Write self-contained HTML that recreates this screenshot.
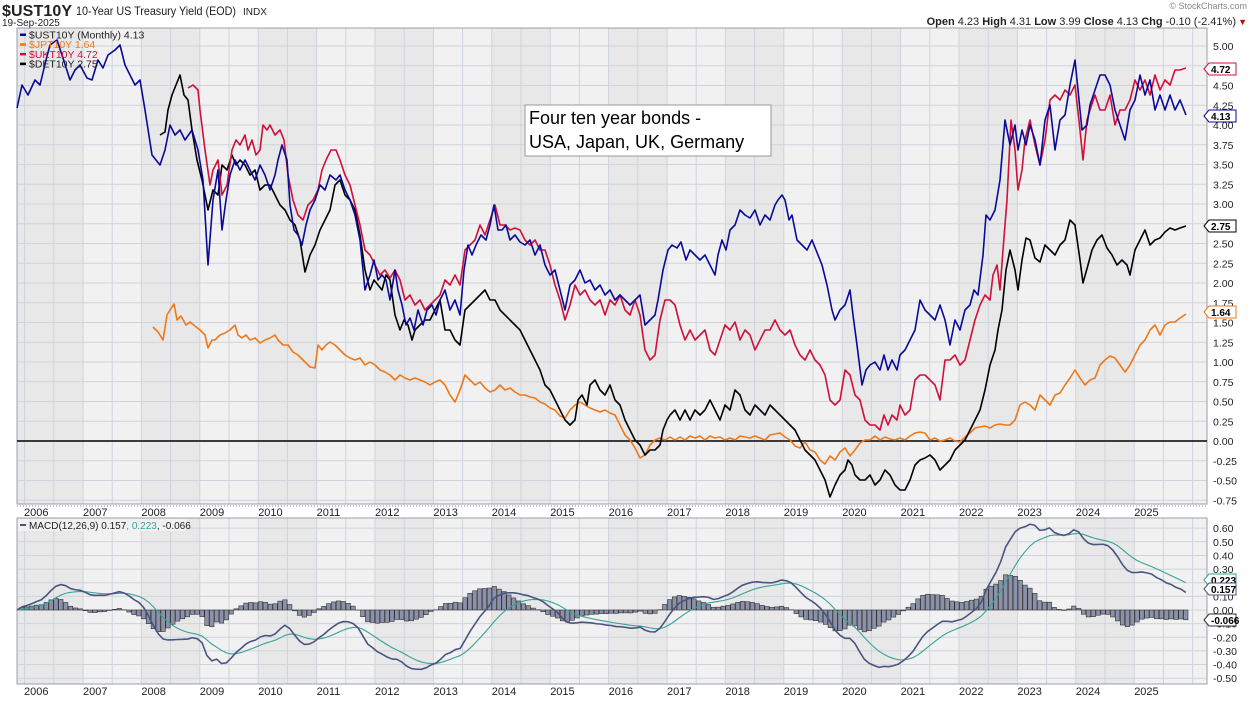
<!DOCTYPE html>
<html><head><meta charset="utf-8"><style>
body{margin:0;background:#fff;font-family:"Liberation Sans",sans-serif;}
svg text{font-family:"Liberation Sans",sans-serif;}
</style></head><body>
<svg id="s" width="1250" height="700" xmlns="http://www.w3.org/2000/svg">
<rect width="1250" height="700" fill="#fff"/>
<g id="bg"></g>
<text x="2" y="16" font-size="16" font-weight="bold" fill="#222" textLength="70">$UST10Y</text>
<text x="76" y="15" font-size="12" fill="#222" textLength="160" lengthAdjust="spacingAndGlyphs">10-Year US Treasury Yield (EOD)</text>
<text x="243" y="15" font-size="10" fill="#222">INDX</text>
<text x="2" y="26" font-size="10" fill="#222">19-Sep-2025</text>
<text x="1247" y="9" font-size="9" fill="#888" text-anchor="end">© StockCharts.com</text>
<text x="1236" y="25" font-size="11" fill="#222" text-anchor="end"><tspan font-weight="bold">Open</tspan> 4.23  <tspan font-weight="bold">High</tspan> 4.31  <tspan font-weight="bold">Low</tspan> 3.99  <tspan font-weight="bold">Close</tspan> 4.13  <tspan font-weight="bold">Chg</tspan> -0.10 (-2.41%)</text>
<text x="1247" y="25" font-size="9" fill="#c00" text-anchor="end">▼</text>
<g id="plot"></g>
</svg>
<script>
const NS="http://www.w3.org/2000/svg";
const bg=document.getElementById('bg'),pl=document.getElementById('plot');
function el(p,t,a,txt){const e=document.createElementNS(NS,t);for(const k in a)e.setAttribute(k,a[k]);if(txt!==undefined)e.textContent=txt;p.appendChild(e);return e;}
const L=17,R=1207,T1=28,B1=504,T2=518,B2=684;
const ys=y=>83+(y-2007)*58.4;
for(const [t,b] of [[T1,B1],[T2,B2]]){
 el(bg,'rect',{x:L,y:t,width:R-L,height:b-t,fill:'#f1f1f1'});
 for(let y=2006;y<=2025;y+=2){let x0=y==2006?L:ys(y),x1=ys(y+1);el(bg,'rect',{x:x0,y:t,width:x1-x0,height:b-t,fill:'#e8e8e8'});}
 for(let y=2006;y<=2026;y++){for(const h of [0,0.5]){const x=ys(y+h);if(x>L&&x<R)el(bg,'line',{x1:x,x2:x,y1:t,y2:b,stroke:'#cfd3dc','stroke-width':1});}}
}
const ym=v=>441-79*v;
for(let v=-0.75;v<=5.001;v+=0.25){el(bg,'line',{x1:L,x2:R,y1:ym(v),y2:ym(v),stroke:'#cfd3dc'});el(bg,'text',{x:1213,y:ym(v)+4,'font-size':10.5,fill:'#222'},v.toFixed(2));}
const yc=v=>610-136.4*v;
for(let i=-5;i<=6;i++){const v=i/10;el(bg,'line',{x1:L,x2:R,y1:yc(v),y2:yc(v),stroke:'#cfd3dc'});el(bg,'text',{x:1213,y:yc(v)+4,'font-size':10.5,fill:'#222'},v.toFixed(2));}
for(const [t,b] of [[T1,B1],[T2,B2]]){el(bg,'rect',{x:L,y:t,width:R-L,height:b-t,fill:'none',stroke:'#9aa0ad'});}
el(bg,'line',{x1:L,x2:R,y1:506,y2:506,stroke:'#888','stroke-dasharray':'1,2'});
for(let y=2006;y<=2025;y++){const x=y==2006?24:ys(y);el(bg,'text',{x:x,y:516,'font-size':11,fill:'#222'},y);el(bg,'text',{x:x,y:695,'font-size':11,fill:'#222'},y);}
el(bg,'line',{x1:L,x2:R,y1:441,y2:441,stroke:'#000','stroke-width':1.6});
const P=s=>s.match(/\d+,\d+/g).map(p=>p.split(',').map(Number));
const US=P(`(17,108),(22,85),(28,95),(35,80),(40,85),(46,60),(50,45),(57,40),(62,55),(70,80),(75,70),(80,65),(87,78),(92,80),(98,60),(103,68),(108,55),(115,50),(120,45),(125,65),(130,75),(135,85),(140,80),(145,110),(152,155),(160,165),(165,150),(170,125),(175,135),(180,130),(185,140),(192,130),(198,150),(203,180),(208,265),(213,200),(218,170),(222,230),(226,200),(230,175),(235,160),(240,170),(245,160),(250,170),(255,180),(260,165),(265,175),(270,190),(275,175),(278,160),(282,145),(287,160),(290,205),(294,230),(298,235),(302,245),(306,225),(310,210),(315,200),(320,185),(325,190),(330,175),(336,180),(340,175),(345,190),(350,200),(355,215),(360,240),(365,290),(370,275),(374,260),(378,280),(382,275),(386,280),(390,300),(395,270),(398,290),(402,305),(406,325),(410,318),(414,330),(418,310),(423,325),(427,310),(432,305),(436,315),(440,300),(445,290),(450,310),(455,300),(460,315),(464,270),(468,245),(472,255),(476,245),(481,235),(486,240),(490,225),(494,205),(498,230),(502,230),(506,225),(510,240),(515,235),(520,242),(525,245),(530,240),(535,255),(540,245),(545,265),(550,275),(555,270),(560,290),(565,310),(570,285),(575,280),(580,270),(585,283),(590,280),(595,290),(600,285),(605,295),(610,290),(615,300),(620,295),(625,300),(630,305),(635,300),(640,295),(645,325),(650,320),(655,315),(658,300),(663,270),(668,250),(672,245),(677,248),(681,242),(686,260),(690,250),(695,255),(700,260),(705,255),(710,265),(715,275),(718,255),(722,240),(726,250),(730,230),(735,225),(740,210),(745,215),(750,218),(755,210),(760,225),(765,215),(770,220),(775,205),(778,200),(782,195),(785,200),(789,220),(792,215),(797,240),(802,245),(807,250),(812,240),(816,250),(822,265),(827,285),(832,310),(835,320),(840,310),(845,305),(850,290),(853,315),(857,345),(862,385),(866,370),(870,365),(875,362),(880,370),(884,355),(888,370),(892,360),(897,370),(900,355),(905,350),(910,340),(915,330),(920,300),(925,310),(930,315),(935,320),(940,305),(945,320),(950,345),(955,320),(960,330),(965,310),(970,305),(974,290),(978,295),(983,255),(986,215),(990,220),(995,210),(1000,180),(1005,120),(1010,145),(1015,125),(1018,150),(1022,130),(1026,145),(1030,125),(1035,140),(1040,165),(1045,120),(1050,105),(1055,150),(1060,120),(1065,115),(1070,85),(1075,60),(1078,90),(1082,130),(1087,125),(1090,105),(1095,90),(1100,75),(1105,75),(1110,85),(1115,110),(1120,125),(1125,140),(1130,110),(1135,100),(1140,75),(1145,95),(1150,80),(1155,110),(1160,95),(1165,110),(1170,95),(1175,110),(1180,100),(1186,115)`);
const UK=P(`(188,88),(193,85),(198,90),(200,110),(205,150),(210,185),(213,170),(218,160),(222,195),(227,185),(232,150),(236,140),(240,145),(245,135),(248,150),(252,140),(256,155),(260,150),(263,125),(267,130),(270,125),(275,135),(280,130),(284,140),(288,175),(293,200),(298,215),(303,220),(308,205),(313,200),(318,190),(322,170),(326,160),(331,150),(336,150),(340,160),(345,175),(350,185),(355,205),(360,225),(365,250),(370,255),(375,265),(380,275),(385,270),(390,278),(395,270),(400,280),(405,300),(410,295),(415,305),(420,300),(425,310),(430,305),(435,300),(440,295),(445,280),(450,285),(455,275),(460,285),(465,250),(470,245),(475,240),(480,225),(485,235),(490,220),(495,205),(500,225),(505,225),(510,230),(515,228),(520,230),(525,240),(530,245),(535,240),(540,250),(545,250),(550,265),(555,285),(560,300),(565,320),(570,305),(575,285),(580,295),(585,290),(590,300),(595,305),(600,300),(605,315),(610,300),(615,305),(620,295),(625,310),(630,315),(635,300),(640,315),(645,350),(650,360),(655,355),(660,320),(665,300),(670,300),(675,305),(680,325),(685,340),(690,330),(695,340),(700,335),(705,330),(710,350),(715,355),(720,340),(725,325),(730,330),(735,322),(740,340),(745,330),(750,335),(755,350),(760,340),(765,330),(770,330),(775,320),(780,330),(785,335),(790,330),(795,345),(800,355),(805,360),(810,350),(815,360),(820,365),(825,375),(830,400),(835,405),(840,400),(845,370),(850,375),(855,395),(860,400),(865,420),(870,425),(875,425),(880,430),(884,415),(888,425),(892,415),(897,420),(900,405),(905,415),(910,410),(915,380),(920,375),(925,375),(930,380),(935,385),(940,400),(945,360),(950,360),(955,355),(960,365),(965,360),(970,340),(975,320),(980,305),(985,295),(990,300),(993,275),(997,265),(1000,290),(1003,250),(1007,200),(1011,120),(1015,150),(1018,190),(1022,170),(1025,140),(1030,120),(1035,145),(1040,165),(1045,140),(1050,100),(1055,95),(1060,100),(1065,90),(1070,95),(1075,85),(1080,130),(1083,160),(1087,120),(1090,110),(1095,95),(1100,110),(1105,110),(1110,95),(1115,125),(1120,110),(1125,110),(1130,100),(1135,80),(1140,90),(1145,80),(1150,95),(1155,75),(1160,90),(1165,80),(1170,85),(1175,70),(1180,70),(1186,68)`);
const DE=P(`(160,135),(165,132),(168,110),(172,95),(176,85),(180,75),(184,95),(188,100),(192,130),(197,160),(202,180),(208,210),(213,190),(218,195),(222,165),(227,170),(232,155),(236,165),(240,160),(245,165),(250,175),(255,170),(260,190),(265,185),(270,185),(275,195),(280,205),(285,210),(290,220),(295,225),(300,240),(305,272),(310,255),(315,245),(320,230),(325,220),(330,210),(335,185),(340,180),(345,195),(350,200),(355,210),(360,235),(365,270),(370,290),(374,280),(378,285),(382,290),(386,275),(390,280),(395,315),(400,330),(404,320),(408,325),(412,340),(415,330),(420,325),(425,320),(430,320),(435,310),(440,300),(445,330),(450,330),(455,340),(460,345),(465,310),(470,305),(475,300),(480,295),(485,290),(490,300),(495,300),(500,310),(505,315),(510,320),(515,325),(520,330),(525,340),(530,350),(535,360),(540,370),(545,385),(550,390),(555,400),(560,410),(565,420),(570,425),(575,420),(578,400),(582,395),(587,405),(590,385),(595,380),(600,390),(605,395),(610,385),(615,400),(620,405),(625,420),(630,430),(635,440),(640,445),(645,455),(650,450),(655,450),(660,445),(663,430),(667,420),(670,415),(675,410),(680,420),(685,410),(690,420),(695,410),(700,415),(705,410),(710,400),(715,410),(720,420),(725,405),(730,410),(735,390),(740,395),(745,410),(750,415),(755,405),(760,410),(765,415),(770,405),(775,410),(780,415),(785,420),(790,425),(795,430),(800,440),(805,450),(810,455),(815,460),(820,470),(825,480),(830,497),(835,485),(840,475),(845,470),(848,460),(852,465),(855,475),(860,480),(865,480),(870,475),(875,485),(880,480),(885,470),(890,475),(895,485),(900,490),(905,490),(910,480),(915,465),(920,460),(925,458),(930,455),(935,460),(940,470),(945,465),(950,460),(955,450),(960,445),(965,440),(970,430),(975,420),(980,410),(985,390),(990,365),(995,350),(998,330),(1002,310),(1006,270),(1010,250),(1015,270),(1018,290),(1022,260),(1026,238),(1030,240),(1035,258),(1040,262),(1045,245),(1050,250),(1055,255),(1060,245),(1065,240),(1070,220),(1075,225),(1080,260),(1083,283),(1088,265),(1092,250),(1097,240),(1102,235),(1107,248),(1112,255),(1117,265),(1122,260),(1127,265),(1130,275),(1135,250),(1140,240),(1145,230),(1150,245),(1155,240),(1160,238),(1165,232),(1170,228),(1175,230),(1180,228),(1186,226)`);
const JP=P(`(153,327),(158,332),(163,340),(167,315),(170,310),(174,304),(177,320),(181,316),(186,325),(190,322),(195,326),(200,330),(205,335),(208,348),(212,340),(215,340),(220,335),(225,333),(230,330),(235,325),(238,335),(242,338),(246,335),(250,340),(255,338),(260,343),(265,340),(270,338),(275,335),(278,340),(283,345),(288,345),(293,352),(298,355),(303,360),(310,367),(315,368),(318,345),(322,350),(326,345),(330,342),(335,345),(340,350),(345,355),(350,358),(355,360),(360,358),(365,365),(370,362),(375,365),(380,370),(385,372),(390,375),(395,380),(400,375),(405,378),(410,380),(415,378),(420,380),(425,382),(430,385),(435,382),(440,380),(445,385),(450,395),(455,402),(460,390),(465,375),(470,380),(475,385),(480,382),(485,388),(490,392),(495,390),(500,385),(505,390),(510,388),(515,392),(520,395),(525,395),(530,397),(535,398),(540,402),(545,404),(550,408),(555,410),(560,416),(565,418),(570,410),(575,405),(580,402),(585,405),(590,408),(595,410),(600,412),(605,410),(610,413),(615,415),(620,425),(625,435),(630,440),(635,448),(640,458),(645,455),(650,445),(655,440),(660,438),(665,440),(670,437),(675,440),(680,437),(685,440),(690,436),(695,438),(700,436),(705,440),(710,436),(715,438),(720,437),(725,440),(730,438),(735,440),(740,436),(745,437),(750,438),(755,436),(760,438),(765,440),(770,435),(775,434),(780,433),(785,437),(790,440),(795,446),(800,448),(805,442),(810,450),(815,452),(820,460),(825,464),(830,456),(835,460),(840,452),(845,448),(850,456),(855,450),(860,443),(865,440),(870,440),(875,436),(880,440),(885,437),(890,439),(895,440),(900,438),(905,440),(910,436),(915,433),(920,432),(925,433),(930,440),(935,438),(940,441),(945,440),(950,438),(955,441),(960,442),(965,437),(970,433),(975,428),(980,427),(985,426),(990,428),(995,425),(1000,424),(1005,425),(1010,425),(1015,420),(1020,405),(1025,402),(1030,405),(1035,410),(1040,395),(1045,400),(1050,405),(1055,395),(1060,393),(1065,385),(1070,378),(1075,370),(1080,378),(1085,385),(1090,380),(1095,378),(1100,365),(1105,360),(1110,356),(1115,358),(1120,365),(1125,372),(1130,365),(1135,355),(1140,345),(1145,340),(1150,330),(1155,325),(1160,335),(1165,325),(1170,322),(1175,322),(1180,318),(1186,314)`);
function line(pts,c,w){el(pl,'polyline',{points:pts.map(p=>p.join(',')).join(' '),fill:'none',stroke:c,'stroke-width':w||1.6,'stroke-linejoin':'round'});}
line(JP,'#f07818');line(DE,'#000');line(UK,'#d0103a');line(US,'#0a0a9a');
function interp(pts,x){for(let i=1;i<pts.length;i++){if(x<=pts[i][0]){const a=pts[i-1],b=pts[i];const t=(x-a[0])/(b[0]-a[0]);return a[1]+t*(b[1]-a[1]);}}return pts[pts.length-1][1];}
const xs=[],vals=[];for(let x=17;x<=1187;x+=4.87){xs.push(x);vals.push((441-interp(US,x))/79);}
let e12=vals[0],e26=vals[0],sig=0;const m=[],sg=[];
for(const v of vals){e12+=(v-e12)*2/13;e26+=(v-e26)*2/27;const md=e12-e26;sig+=(md-sig)*2/10;m.push(md);sg.push(sig);}
xs.forEach((x,i)=>{const h=m[i]-sg[i];const y0=yc(0),y1=yc(h);el(pl,'rect',{x:x-2.2,y:Math.min(y0,y1),width:4.4,height:Math.abs(y1-y0),fill:'#8a91a8',stroke:'#333','stroke-width':0.6});});
line(xs.map((x,i)=>[x,yc(sg[i])]),'#35a596',1.1);
line(xs.map((x,i)=>[x,yc(m[i])]),'#4a5480',1.6);
const lg=[['$UST10Y (Monthly) 4.13','#0a0a9a',"#222"],['$JPT10Y 1.64','#f07818','#f07818'],['$UKT10Y 4.72','#d0103a','#d0103a'],['$DET10Y 2.75','#000','#222']];
lg.forEach((l,i)=>{const y=37+i*9.7;el(pl,'rect',{x:20,y:y-3.5,width:6,height:2.5,fill:l[1]});el(pl,'text',{x:29,y:y+1.5,'font-size':10.5,fill:l[2]},l[0]);});
el(pl,'rect',{x:18,y:519,width:168,height:12,fill:'#f1f1f1'});
el(pl,'rect',{x:20,y:524,width:6,height:2,fill:'#4a5480'});
const t=el(pl,'text',{x:29,y:529,'font-size':10,fill:'#222'});t.innerHTML='MACD(12,26,9) 0.157<tspan fill="#35a596">, 0.223</tspan>, -0.066';
function tag(y,txt,c){el(pl,'path',{d:`M1204,${y} L1209,${y-6} L1236,${y-6} L1236,${y+6} L1209,${y+6} Z`,fill:'#fff',stroke:c,'stroke-width':1});el(pl,'text',{x:1211,y:y+4,'font-size':10,'font-weight':'bold',fill:'#000'},txt);}
tag(69,'4.72','#d0103a');tag(116,'4.13','#0a0a9a');tag(226,'2.75','#000');tag(312,'1.64','#f07818');
tag(580,'0.223','#35a596');tag(589,'0.157','#4a5480');tag(620,'-0.066','#333');
el(pl,'rect',{x:525,y:105,width:246,height:51,fill:'#fff',stroke:'#999'});
el(pl,'text',{x:529,y:124,'font-size':18,fill:'#000'},'Four ten year bonds -');
el(pl,'text',{x:529,y:148,'font-size':18,fill:'#000'},'USA, Japan, UK, Germany');
</script>
</body></html>
